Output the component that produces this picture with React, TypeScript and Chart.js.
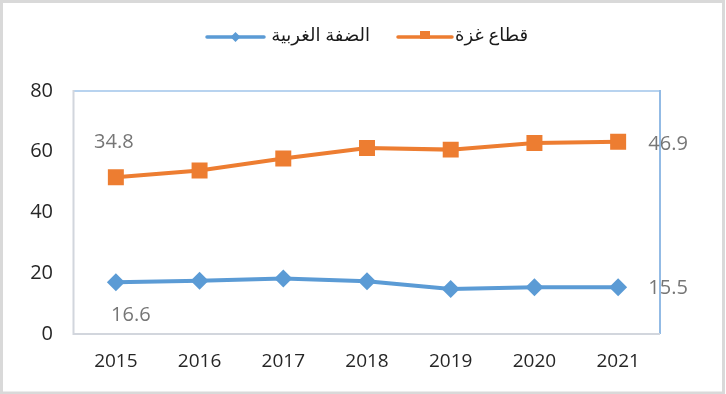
import React, { useEffect, useRef } from 'react';
import { Chart, registerables } from 'chart.js';

Chart.register(...registerables);

// ---- data ----
const years = ['2015', '2016', '2017', '2018', '2019', '2020', '2021'];
const westBank = [17.0, 17.5, 18.3, 17.4, 14.8, 15.4, 15.4];
const gaza = [51.6, 53.8, 57.8, 61.2, 60.7, 62.9, 63.3];
const westBankLabel = 'الضفة الغربية';
const gazaLabel = 'قطاع غزة';
// printed labels (first, last point) as they appear on the chart
const westBankPrinted = ['16.6', '15.5'];
const gazaPrinted = ['34.8', '46.9'];
const yMin = 0;
const yMax = 80;
const yStep = 20;

const BLUE = '#5B9BD5';
const ORANGE = '#ED7D31';
const FONT = "'Open Sans', 'DejaVu Sans', sans-serif";

const framePlugin = {
  id: 'frame',
  beforeDraw(chart: any) {
    const { ctx, chartArea: a, width, height } = chart;
    ctx.save();
    ctx.fillStyle = '#ffffff';
    ctx.fillRect(0, 0, width, height);
    // outer frame
    ctx.strokeStyle = '#d9d9d9';
    ctx.lineWidth = 3;
    ctx.strokeRect(1.5, 1.5, width - 4, height - 2.5);
    // plot area
    ctx.lineWidth = 2;
    ctx.strokeStyle = '#b8d3ef';
    ctx.beginPath();
    ctx.moveTo(a.left, a.top);
    ctx.lineTo(a.right, a.top);
    ctx.stroke();
    ctx.strokeStyle = '#93bbe5';
    ctx.beginPath();
    ctx.moveTo(a.right, a.top - 1);
    ctx.lineTo(a.right, a.bottom);
    ctx.stroke();
    ctx.strokeStyle = '#d2d6dd';
    ctx.beginPath();
    ctx.moveTo(a.left - 0.5, a.top - 1);
    ctx.lineTo(a.left - 0.5, a.bottom);
    ctx.lineTo(a.right, a.bottom);
    ctx.stroke();
    ctx.restore();
  },
};

const labelsPlugin = {
  id: 'pointLabels',
  afterDatasetsDraw(chart: any) {
    const { ctx } = chart;
    const x = chart.scales.x;
    const y = chart.scales.y;
    const last = years.length - 1;
    const items = [
      { t: gazaPrinted[0], px: x.getPixelForValue(0), py: y.getPixelForValue(gaza[0]), dx: -2, dy: -35 },
      { t: gazaPrinted[1], px: x.getPixelForValue(last), py: y.getPixelForValue(gaza[last]), dx: 50, dy: 3 },
      { t: westBankPrinted[0], px: x.getPixelForValue(0), py: y.getPixelForValue(westBank[0]), dx: 15, dy: 33 },
      { t: westBankPrinted[1], px: x.getPixelForValue(last), py: y.getPixelForValue(westBank[last]), dx: 50, dy: 1 },
    ];
    ctx.save();
    ctx.font = `20px ${FONT}`;
    ctx.fillStyle = '#767676';
    ctx.textAlign = 'center';
    ctx.textBaseline = 'middle';
    items.forEach((it) => ctx.fillText(it.t, it.px + it.dx, it.py + it.dy));
    ctx.restore();
  },
};

const legendPlugin = {
  id: 'customLegend',
  afterDraw(chart: any) {
    const { ctx } = chart;
    const cy = 37;
    const entries = [
      { label: westBankLabel, color: BLUE, style: 'diamond', x0: 207, x1: 264, textRight: 370 },
      { label: gazaLabel, color: ORANGE, style: 'square', x0: 398, x1: 452, textRight: 528 },
    ];
    ctx.save();
    entries.forEach((e) => {
      ctx.strokeStyle = e.color;
      ctx.fillStyle = e.color;
      ctx.lineWidth = 3.5;
      ctx.lineCap = 'round';
      ctx.beginPath();
      ctx.moveTo(e.x0, cy);
      ctx.lineTo(e.x1, cy);
      ctx.stroke();
      const cx = (e.x0 + e.x1) / 2;
      ctx.beginPath();
      if (e.style === 'diamond') {
        ctx.moveTo(cx, cy - 5);
        ctx.lineTo(cx + 5, cy);
        ctx.lineTo(cx, cy + 5);
        ctx.lineTo(cx - 5, cy);
        ctx.closePath();
        ctx.fill();
      } else {
        ctx.fillRect(cx - 5, cy - 6, 10, 8);
      }
      ctx.fillStyle = '#1a1a1a';
      ctx.font = `18px ${FONT}`;
      ctx.textBaseline = 'middle';
      ctx.textAlign = 'right';
      (ctx as any).direction = 'rtl';
      ctx.fillText(e.label, e.textRight, cy - 1);
      (ctx as any).direction = 'ltr';
    });
    ctx.restore();
  },
};

export default function App() {
  const ref = useRef<HTMLCanvasElement | null>(null);

  useEffect(() => {
    document.body.style.margin = '0';
    if (!ref.current) return;
    const chart = new Chart(ref.current, {
      type: 'line',
      data: {
        labels: years,
        datasets: [
          {
            label: westBankLabel,
            data: westBank,
            borderColor: BLUE,
            backgroundColor: BLUE,
            borderWidth: 4,
            pointStyle: 'rectRot',
            pointRadius: 9,
            pointBorderWidth: 0,
            tension: 0,
          },
          {
            label: gazaLabel,
            data: gaza,
            borderColor: ORANGE,
            backgroundColor: ORANGE,
            borderWidth: 4,
            pointStyle: 'rect',
            pointRadius: 11.3,
            pointBorderWidth: 0,
            tension: 0,
          },
        ],
      },
      options: {
        responsive: false,
        animation: false,
        layout: { padding: { top: 91, right: 66, left: 0, bottom: 0 } },
        plugins: {
          legend: { display: false },
          tooltip: { enabled: false },
        },
        scales: {
          x: {
            offset: true,
            grid: { display: false, drawTicks: false },
            border: { display: false },
            ticks: { font: { family: FONT, size: 19 }, color: '#262626', padding: 16 },
            afterFit: (s: any) => {
              s.height = 60;
            },
          },
          y: {
            min: yMin,
            max: yMax,
            grid: { display: false, drawTicks: false },
            border: { display: false },
            ticks: { stepSize: yStep, font: { family: FONT, size: 20 }, color: '#262626', padding: 21 },
            afterFit: (s: any) => {
              s.width = 74;
            },
          },
        },
      },
      plugins: [framePlugin, labelsPlugin, legendPlugin],
    });
    return () => chart.destroy();
  }, []);

  return (
    <div style={{ width: 726, height: 394 }}>
      <canvas ref={ref} width={726} height={394} style={{ display: 'block' }} />
    </div>
  );
}
